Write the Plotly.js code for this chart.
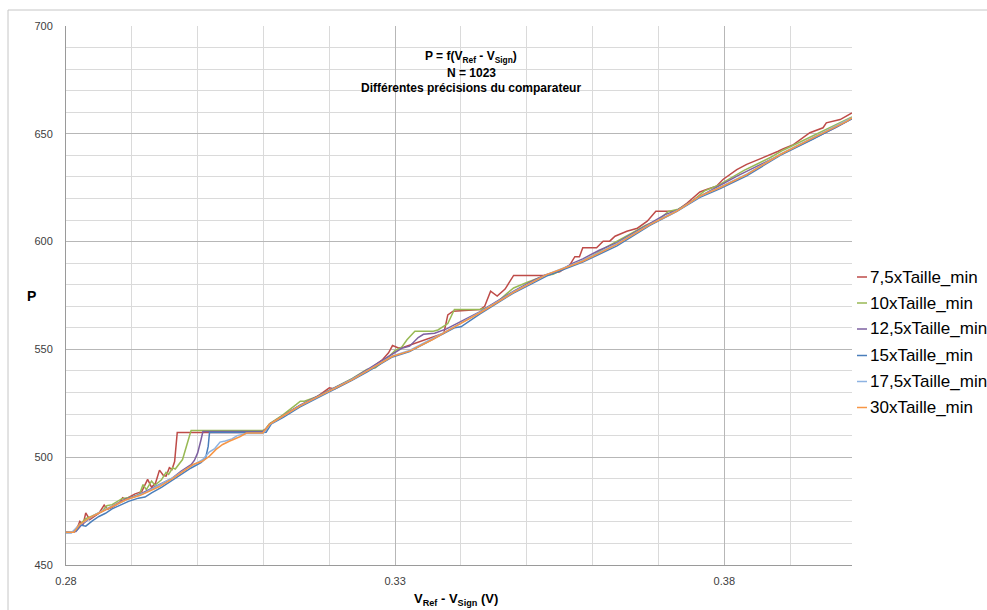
<!DOCTYPE html>
<html>
<head>
<meta charset="utf-8">
<script src="https://cdn.plot.ly/plotly-3.0.1.min.js"></script>
<style>html,body{margin:0;padding:0;background:#fff;}#chart{width:987px;height:610px;}</style>
</head>
<body>
<div id="chart"></div>
<script>
// ---- data (x = V_Ref - V_Sign in V, y = P) ----
const seriesNames = ['7,5xTaille_min','10xTaille_min','12,5xTaille_min','15xTaille_min','17,5xTaille_min','30xTaille_min'];
const seriesColors = ['#BE4B48','#98B954','#7D60A0','#4A7EBB','#8DB3E2','#F79646'];
const xTickVals = [0.28, 0.33, 0.38];
const xTickText = ['0.28', '0.33', '0.38'];
const yTickVals = [450, 500, 550, 600, 650, 700];

const s75 = [[0.2800,465.2],[0.2812,465.2],[0.2818,468.0],[0.2821,470.3],[0.2826,468.8],[0.2830,474.2],[0.2836,471.0],[0.2850,474.0],[0.2858,477.8],[0.2863,475.8],[0.2870,476.8],[0.2882,479.0],[0.2886,481.2],[0.2890,480.5],[0.2905,483.0],[0.2915,484.0],[0.2924,489.7],[0.2930,486.0],[0.2936,488.0],[0.2942,494.0],[0.2948,491.5],[0.2952,491.2],[0.2957,495.1],[0.2961,494.3],[0.2965,498.0],[0.2968,508.2],[0.2969,511.5],[0.3099,511.5],[0.3103,512.5],[0.3109,515.2],[0.3129,519.3],[0.3155,523.9],[0.3180,527.8],[0.3200,532.2],[0.3208,531.6],[0.3235,536.0],[0.3257,539.9],[0.3280,545.0],[0.3290,548.4],[0.3296,551.8],[0.3305,550.7],[0.3313,551.0],[0.3345,554.6],[0.3374,557.5],[0.3380,566.0],[0.3388,567.7],[0.3429,568.5],[0.3436,570.0],[0.3445,577.0],[0.3455,574.7],[0.3467,578.0],[0.3480,584.3],[0.3528,584.3],[0.3538,585.3],[0.3550,586.0],[0.3565,589.0],[0.3573,593.0],[0.3580,593.0],[0.3585,597.1],[0.3606,597.1],[0.3616,600.2],[0.3626,600.2],[0.3634,602.5],[0.3652,604.8],[0.3668,606.2],[0.3683,609.5],[0.3696,614.1],[0.3727,614.1],[0.3744,618.0],[0.3763,623.0],[0.3773,624.2],[0.3788,625.7],[0.3798,628.8],[0.3819,633.4],[0.3834,635.8],[0.3859,638.9],[0.3882,641.9],[0.3889,643.0],[0.3905,645.0],[0.3930,650.5],[0.3950,652.8],[0.3955,655.1],[0.3976,656.6],[0.3994,659.7]];

const s10 = [[0.2800,465.2],[0.2812,465.5],[0.2820,468.5],[0.2830,471.5],[0.2840,472.8],[0.2855,475.0],[0.2862,477.5],[0.2870,478.0],[0.2885,480.8],[0.2900,481.5],[0.2912,483.0],[0.2917,487.3],[0.2922,485.0],[0.2930,488.9],[0.2935,487.0],[0.2945,489.5],[0.2952,493.0],[0.2956,492.0],[0.2962,495.1],[0.2966,494.5],[0.2977,498.9],[0.2985,506.7],[0.2990,512.4],[0.3099,512.4],[0.3103,513.0],[0.3109,515.5],[0.3129,519.5],[0.3150,524.5],[0.3156,526.0],[0.3162,526.0],[0.3180,528.0],[0.3205,531.8],[0.3235,536.5],[0.3257,540.7],[0.3270,541.5],[0.3290,546.5],[0.3300,549.5],[0.3310,551.0],[0.3318,554.5],[0.3330,558.4],[0.3358,558.4],[0.3365,559.0],[0.3380,562.0],[0.3390,568.5],[0.3429,568.5],[0.3440,569.5],[0.3455,572.0],[0.3470,576.0],[0.3480,578.5],[0.3500,581.0],[0.3528,584.3],[0.3540,584.8],[0.3560,588.0],[0.3580,590.5],[0.3600,593.5],[0.3620,597.3],[0.3640,600.5],[0.3660,604.0],[0.3680,607.5],[0.3700,610.0],[0.3715,614.0],[0.3730,615.0],[0.3750,618.5],[0.3770,623.5],[0.3790,626.0],[0.3810,629.5],[0.3830,633.0],[0.3850,636.0],[0.3870,639.0],[0.3890,642.5],[0.3910,645.5],[0.3930,648.5],[0.3950,651.5],[0.3970,654.5],[0.3994,657.8]];

const s125 = [[0.2800,465.2],[0.2815,465.5],[0.2825,469.0],[0.2840,472.5],[0.2856,475.0],[0.2872,477.5],[0.2890,480.5],[0.2910,482.5],[0.2930,485.5],[0.2945,487.5],[0.2960,490.0],[0.2975,493.5],[0.2990,496.5],[0.2995,498.5],[0.3000,502.0],[0.3005,508.0],[0.3008,511.9],[0.3099,511.9],[0.3103,513.0],[0.3110,515.5],[0.3130,519.3],[0.3155,524.0],[0.3180,528.0],[0.3205,531.6],[0.3235,536.3],[0.3257,540.5],[0.3280,545.0],[0.3296,548.0],[0.3310,550.5],[0.3322,551.5],[0.3335,555.5],[0.3343,557.0],[0.3360,557.5],[0.3378,559.5],[0.3400,563.0],[0.3429,567.5],[0.3450,571.5],[0.3480,577.0],[0.3510,582.0],[0.3528,584.5],[0.3550,586.5],[0.3570,590.0],[0.3585,592.0],[0.3610,596.0],[0.3637,599.5],[0.3660,603.5],[0.3687,608.5],[0.3710,612.5],[0.3728,614.5],[0.3760,620.5],[0.3790,625.5],[0.3820,630.5],[0.3850,635.0],[0.3880,639.5],[0.3910,644.0],[0.3940,648.5],[0.3970,653.0],[0.3994,657.0]];

const s15 = [[0.2800,465.0],[0.2808,465.0],[0.2816,466.0],[0.2822,468.5],[0.2830,468.0],[0.2840,470.5],[0.2850,472.5],[0.2860,474.0],[0.2870,476.0],[0.2880,477.5],[0.2895,479.5],[0.2910,481.0],[0.2920,481.5],[0.2930,483.5],[0.2945,486.0],[0.2960,489.0],[0.2975,492.0],[0.2990,495.0],[0.3005,497.5],[0.3012,499.5],[0.3016,505.0],[0.3018,511.4],[0.3099,511.4],[0.3104,511.6],[0.3108,513.5],[0.3112,515.5],[0.3130,518.5],[0.3155,523.2],[0.3180,527.2],[0.3205,531.0],[0.3235,535.8],[0.3257,539.5],[0.3296,546.5],[0.3322,549.0],[0.3357,554.5],[0.3378,557.8],[0.3390,560.0],[0.3400,560.5],[0.3429,566.5],[0.3479,576.0],[0.3530,584.0],[0.3585,590.5],[0.3637,598.0],[0.3687,607.5],[0.3728,614.0],[0.3763,620.5],[0.3793,624.5],[0.3834,630.5],[0.3885,640.0],[0.3935,647.5],[0.3994,657.0]];

const s175 = [[0.2800,465.2],[0.2810,465.5],[0.2820,468.5],[0.2832,471.0],[0.2845,473.5],[0.2858,475.5],[0.2872,477.5],[0.2890,480.0],[0.2905,481.8],[0.2920,483.5],[0.2935,486.0],[0.2950,488.5],[0.2965,491.0],[0.2980,494.0],[0.2995,496.5],[0.3008,499.0],[0.3018,502.5],[0.3026,504.0],[0.3034,507.0],[0.3042,507.5],[0.3052,508.5],[0.3060,510.0],[0.3068,510.5],[0.3074,511.0],[0.3099,511.0],[0.3103,512.5],[0.3110,515.3],[0.3130,519.2],[0.3155,523.8],[0.3180,527.6],[0.3205,531.5],[0.3235,536.2],[0.3257,540.0],[0.3296,547.0],[0.3322,549.5],[0.3357,555.0],[0.3378,558.5],[0.3429,567.3],[0.3479,576.5],[0.3530,584.7],[0.3585,591.2],[0.3637,599.0],[0.3687,608.0],[0.3728,614.3],[0.3763,621.0],[0.3793,625.2],[0.3834,631.3],[0.3885,640.5],[0.3935,648.2],[0.3994,657.5]];

const s30 = [[0.2800,465.2],[0.2812,465.2],[0.2821,468.8],[0.2836,472.0],[0.2855,474.8],[0.2871,477.1],[0.2892,480.4],[0.2912,482.2],[0.2942,486.4],[0.2962,490.1],[0.2985,495.2],[0.2993,496.6],[0.3007,498.1],[0.3018,500.5],[0.3028,503.6],[0.3038,505.9],[0.3048,507.4],[0.3064,509.5],[0.3074,511.2],[0.3099,511.2],[0.3102,512.5],[0.3109,515.2],[0.3129,519.0],[0.3155,523.7],[0.3180,527.6],[0.3205,531.4],[0.3235,536.0],[0.3257,539.9],[0.3296,546.8],[0.3322,549.2],[0.3357,554.6],[0.3378,558.4],[0.3429,567.0],[0.3479,576.3],[0.3530,584.7],[0.3585,590.9],[0.3637,598.7],[0.3687,607.9],[0.3728,614.1],[0.3763,621.1],[0.3793,625.0],[0.3834,631.1],[0.3885,640.4],[0.3935,648.1],[0.3986,655.8],[0.3994,657.4]];

const allSeries = [s75, s10, s125, s15, s175, s30];

// ---- layout geometry ----
const W = 987, H = 610;
const M = {l: 66, r: 135, t: 26, b: 45};
const PW = W - M.l - M.r, PH = H - M.t - M.b;
const px2x = px => (px - M.l) / PW;
const py2y = py => (H - M.b - py) / PH;
const FONT = '"Liberation Sans", Arial, sans-serif';

const traces = allSeries.map((s, i) => ({
  type: 'scatter', mode: 'lines', name: seriesNames[i],
  x: s.map(p => p[0]), y: s.map(p => p[1]),
  line: {color: seriesColors[i], width: 1.5},
  showlegend: false, hoverinfo: 'skip'
}));

const legendY = [277, 303, 329, 355.5, 381.5, 407.5];
const shapes = [
  {type: 'rect', xref: 'paper', yref: 'paper', x0: px2x(8), x1: px2x(995), y0: py2y(615), y1: py2y(10),
   line: {color: '#C6C6C6', width: 1}, fillcolor: 'rgba(0,0,0,0)', layer: 'below'}
];
const titleFont = {family: FONT, size: 12, color: '#000'};
const annotations = [
  {text: '<b>P = f(V<sub>Ref</sub> - V<sub>Sign</sub>)</b>', xref: 'paper', yref: 'paper', x: px2x(471), y: py2y(57), showarrow: false, font: titleFont, xanchor: 'center', yanchor: 'middle'},
  {text: '<b>N = 1023</b>', xref: 'paper', yref: 'paper', x: px2x(471), y: py2y(73), showarrow: false, font: titleFont, xanchor: 'center', yanchor: 'middle'},
  {text: '<b>Différentes précisions du comparateur</b>', xref: 'paper', yref: 'paper', x: px2x(471), y: py2y(88), showarrow: false, font: titleFont, xanchor: 'center', yanchor: 'middle'},
  {text: '<b>P</b>', xref: 'paper', yref: 'paper', x: px2x(31), y: py2y(296), showarrow: false, font: {family: FONT, size: 14, color: '#000'}, xanchor: 'center', yanchor: 'middle'},
  {text: '<b>V<sub>Ref</sub> - V<sub>Sign</sub> (V)</b>', xref: 'paper', yref: 'paper', x: px2x(456), y: py2y(599), showarrow: false, font: {family: FONT, size: 13, color: '#000'}, xanchor: 'center', yanchor: 'middle'}
];

seriesNames.forEach((n, i) => {
  shapes.push({type: 'line', xref: 'paper', yref: 'paper', x0: px2x(857), x1: px2x(867), y0: py2y(legendY[i]), y1: py2y(legendY[i]),
    line: {color: seriesColors[i], width: 1.5}});
  annotations.push({text: n, xref: 'paper', yref: 'paper', x: px2x(868), y: py2y(legendY[i]), showarrow: false,
    xanchor: 'left', yanchor: 'middle', font: {family: FONT, size: 17, color: '#000'}});
});

const layout = {
  width: W, height: H,
  margin: M,
  paper_bgcolor: '#fff', plot_bgcolor: '#fff',
  showlegend: false,
  xaxis: {
    range: [0.28, 0.3994], tickmode: 'array', tickvals: xTickVals, ticktext: xTickText,
    showgrid: true, gridcolor: '#B7B7B7', gridwidth: 1,
    minor: {tickmode: 'linear', tick0: 0.28, dtick: 0.01, showgrid: true, gridcolor: '#DADADA', gridwidth: 1},
    showline: true, linecolor: '#9A9A9A', linewidth: 1, zeroline: false, ticks: '',
    ticklabelstandoff: 6,
    tickfont: {family: FONT, size: 11, color: '#404040'}
  },
  yaxis: {
    range: [450, 700], tickmode: 'array', tickvals: yTickVals,
    showgrid: true, gridcolor: '#B7B7B7', gridwidth: 1,
    minor: {tickmode: 'linear', tick0: 450, dtick: 10, showgrid: true, gridcolor: '#DADADA', gridwidth: 1},
    showline: true, linecolor: '#9A9A9A', linewidth: 1, zeroline: false, ticks: '',
    ticklabelstandoff: 10,
    tickfont: {family: FONT, size: 11, color: '#404040'}
  },
  shapes: shapes,
  annotations: annotations
};

Plotly.newPlot('chart', traces, layout, {staticPlot: true, displayModeBar: false});
</script>
</body>
</html>
